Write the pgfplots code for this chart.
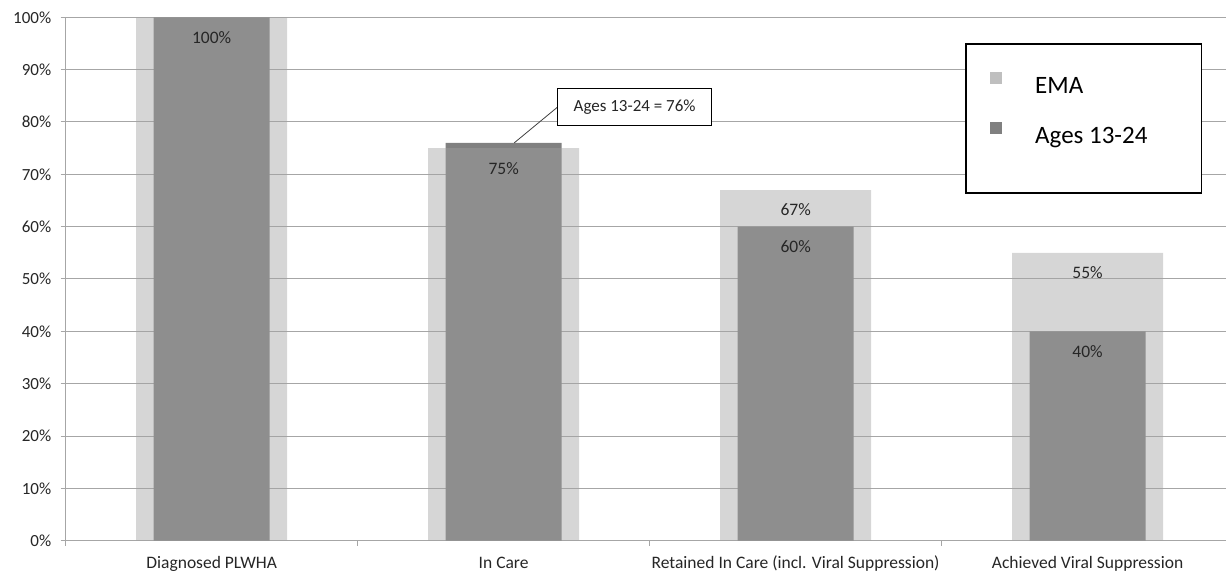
\documentclass[border=0pt]{standalone}
\usepackage{fontspec}
\setmainfont{Carlito}
\usepackage{pgfplots}
\pgfplotsset{compat=1.18}
\definecolor{gridgray}{HTML}{A6A6A6}
\definecolor{emabar}{HTML}{A2A2A2}
\definecolor{youthbar}{HTML}{808080}
\definecolor{emakey}{HTML}{BFBFBF}
\definecolor{txt}{HTML}{262626}
\definecolor{callout}{HTML}{404040}

\begin{document}
\begin{tikzpicture}
\begin{axis}[
  name=ax,
  scale only axis, width=1160.3pt, height=523.4pt,
  xmin=-0.5, xmax=3.474, ymin=0, ymax=100,
  axis x line*=bottom, axis y line*=left,
  axis line style={draw=gridgray, line width=1pt, -},
  xtick={0,1,2,3},
  xticklabels={Diagnosed PLWHA, In Care, Retained In Care (incl. Viral Suppression), Achieved Viral Suppression},
  minor xtick={-0.5,0.5,1.5,2.5},
  xtick style={draw=none},
  minor x tick style={draw=gridgray, line width=1pt},
  ytick={0,10,...,100},
  yticklabel={\pgfmathprintnumber{\tick}\%},
  ytick style={draw=gridgray, line width=1pt},
  tick align=outside,
  major tick length=5pt, minor tick length=5pt,
  ymajorgrids, grid style={draw=gridgray, line width=1pt},
  /pgf/number format/assume math mode=true,
  ticklabel style={font=\fontsize{17}{20}\selectfont, text=txt},
  xticklabel style={yshift=-7pt, text height=12.5pt, text depth=4pt,
    font=\fontsize{17.5}{20}\selectfont},
  yticklabel style={xshift=-6pt},
  legend style={at={(0.7966,0.8974)}, anchor=north west, draw=none, fill=none,
    inner sep=0pt, row sep=22pt, column sep=0pt,
    nodes={inner sep=0pt, text height=22pt, text depth=6pt,
      font=\fontsize{25}{30}\selectfont, text=black}},
  legend cell align=left,
]
% Ages 13-24 underneath, EMA as a translucent wider bar on top
\addplot[ybar, bar width=0.397, bar shift=0pt, fill=youthbar, draw=none, forget plot]
  coordinates {(0,100) (1,76) (2,60) (3,40)};
\addplot[ybar, bar width=0.517, bar shift=0pt, fill=emabar, fill opacity=0.44, draw=none, forget plot]
  coordinates {(0,100) (1,75) (2,67) (3,55)};

% value labels, drawn after both bar series
\addplot[ybar, bar width=0.397, bar shift=0pt, draw=none, fill=none, forget plot,
  point meta=explicit symbolic, nodes near coords,
  every node near coord/.append style={anchor=center, yshift=-20pt,
    font=\fontsize{17.5}{20}\selectfont, text=txt}]
  coordinates {(0,100) [100\%] (1,76) [] (2,60) [60\%] (3,40) [40\%]};
\addplot[ybar, bar width=0.517, bar shift=0pt, draw=none, fill=none, forget plot,
  point meta=explicit symbolic, nodes near coords,
  every node near coord/.append style={anchor=center, yshift=-20pt,
    font=\fontsize{17.5}{20}\selectfont, text=txt}]
  coordinates {(0,100) [] (1,75) [75\%] (2,67) [67\%] (3,55) [55\%]};

% callout for the In Care youth bar
\draw[draw=callout, line width=0.8pt] (axis cs:1.036,76) -- (axis cs:1.1836,82.8);
\node[draw=black, line width=1pt, fill=white, anchor=west, minimum width=153.7pt,
  minimum height=36.7pt, inner sep=0pt, font=\fontsize{17}{20}\selectfont, text=txt]
  at (axis cs:1.1836,82.8) {Ages 13-24 = 76\%};

% legend frame
\draw[black, line width=1.3pt, fill=white] (axis cs:2.583,94.90) rectangle (axis cs:3.390,66.43);

\addlegendimage{legend image code/.code={\fill[emakey, draw=none] (0pt,1pt) rectangle (12pt,13pt);
  \path[draw=none, fill=none] (0pt,-14pt) rectangle (45pt,14pt);}}
\addlegendentry{EMA}
\addlegendimage{legend image code/.code={\fill[youthbar, draw=none] (0pt,1pt) rectangle (12pt,13pt);
  \path[draw=none, fill=none] (0pt,-14pt) rectangle (45pt,14pt);}}
\addlegendentry{Ages 13-24}
\end{axis}
\pgfresetboundingbox
\path[use as bounding box] ([xshift=-65.7pt,yshift=-31.3pt]ax.south west) rectangle ([yshift=17.3pt]ax.north east);
\end{tikzpicture}
\end{document}
